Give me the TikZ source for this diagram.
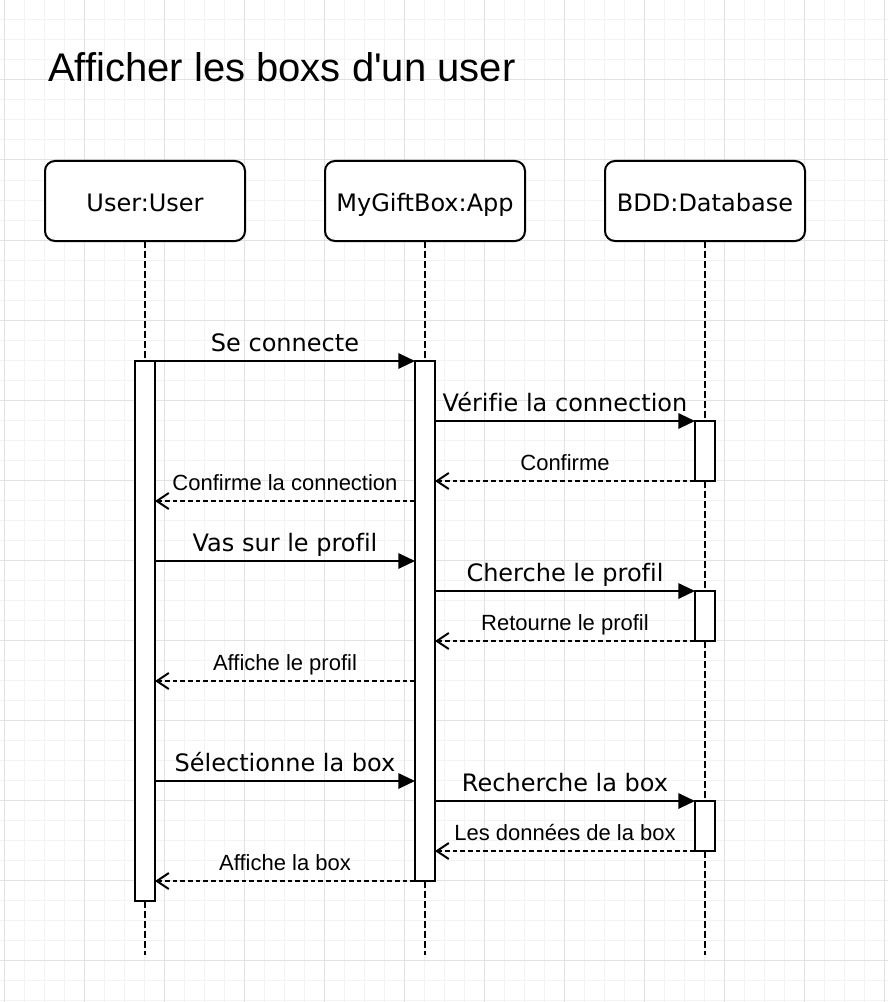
\documentclass[tikz,border=0pt]{standalone}
\usepackage{fontspec}
\setmainfont[Ligatures=NoCommon]{Liberation Sans}
\newfontfamily\dejavu[Ligatures=NoCommon]{DejaVu Sans}
\usepackage{tikz}
\usetikzlibrary{arrows.meta}
\definecolor{GridMinor}{HTML}{F3F3F3}
\definecolor{GridMajor}{HTML}{E2E2E2}

\tikzset{
  gridminor/.style={GridMinor, line width=0.75pt},
  gridmajor/.style={GridMajor, line width=0.75pt},
  head/.style={draw, fill=white, line width=1.5pt, rounded corners=7.5pt,
    minimum width=150pt, minimum height=60pt, inner sep=0pt, outer sep=0pt,
    text height=16pt, text depth=0pt,
    font=\dejavu\fontsize{18}{21}\selectfont},
  lifeline/.style={line width=1.5pt, dash pattern=on 5pt off 2.5pt},
  bar/.style={draw, fill=white, line width=1.5pt, minimum width=15pt,
    inner sep=0pt, outer sep=0pt, anchor=north},
  call/.style={line width=1.5pt, -{Triangle[length=12.5pt, width=11.5pt]}},
  reply/.style={line width=1.5pt, dash pattern=on 3.5pt off 2.25pt,
    -{Straight Barb[length=9pt, width=12pt, line width=1.5pt]}},
  calllbl/.style={midway, anchor=base, yshift=7pt, font=\dejavu\fontsize{18}{21}\selectfont},
  replylbl/.style={midway, anchor=base, yshift=8pt, font=\fontsize{16.5}{20}\selectfont}
}

\begin{document}
\begin{tikzpicture}[x=0.75pt, y=-0.75pt]
\useasboundingbox[fill=white] (0,0) rectangle (888,1002);

% grid
\foreach \gx in {4,24,...,884} \draw[gridminor] (\gx,0) -- (\gx,1002);
\foreach \gy in {0,20,...,1000} \draw[gridminor] (0,\gy) -- (888,\gy);
\foreach \gx in {4,84,...,884} \draw[gridmajor] (\gx,0) -- (\gx,1002);
\foreach \gy in {0,80,...,960} \draw[gridmajor] (0,\gy) -- (888,\gy);

\node[anchor=base west, inner sep=0pt, font=\fontsize{30}{36}\selectfont] (title) at (48,82) {Afficher les boxs d\textquotesingle un user};

% participants
\node[head] (user) at (145,201) {User:User};
\node[head] (app) at (425,201) {MyGiftBox:App};
\node[head] (bdd) at (705,201) {BDD:Database};

\coordinate (userend) at (145,955);
\coordinate (append) at (425,955);
\coordinate (bddend) at (705,955);
\draw[lifeline] (user.south) -- (userend);
\draw[lifeline] (app.south) -- (append);
\draw[lifeline] (bdd.south) -- (bddend);

% activations
\node[bar, minimum height=405pt] (ubar) at (145,361) {};
\node[bar, minimum height=390pt] (abar) at (425,361) {};
\node[bar, minimum height=45pt] (dbar1) at (705,421) {};
\node[bar, minimum height=37.5pt] (dbar2) at (705,591) {};
\node[bar, minimum height=37.5pt] (dbar3) at (705,801) {};

% messages
\draw[call] (ubar.east |- 0,361) -- (abar.west |- 0,361) node[calllbl] {Se connecte};
\draw[call] (abar.east |- dbar1.north) -- (dbar1.north west) node[calllbl] {Vérifie la connection};
\draw[reply] (dbar1.south west) -- (abar.east |- dbar1.south) node[replylbl] {Confirme};
\draw[reply] (abar.west |- 0,501) -- (ubar.east |- 0,501) node[replylbl] {Confirme la connection};

\draw[call] (ubar.east |- 0,561) -- (abar.west |- 0,561) node[calllbl] {Vas sur le profil};
\draw[call] (abar.east |- dbar2.north) -- (dbar2.north west) node[calllbl] {Cherche le profil};
\draw[reply] (dbar2.south west) -- (abar.east |- dbar2.south) node[replylbl] {Retourne le profil};
\draw[reply] (abar.west |- 0,681) -- (ubar.east |- 0,681) node[replylbl] {Affiche le profil};

\draw[call] (ubar.east |- 0,781) -- (abar.west |- 0,781) node[calllbl] {Sélectionne la box};
\draw[call] (abar.east |- dbar3.north) -- (dbar3.north west) node[calllbl] {Recherche la box};
\draw[reply] (dbar3.south west) -- (abar.east |- dbar3.south) node[replylbl] {Les données de la box};
\draw[reply] (abar.south west) -- (ubar.east |- abar.south) node[replylbl] {Affiche la box};
\end{tikzpicture}
\end{document}
